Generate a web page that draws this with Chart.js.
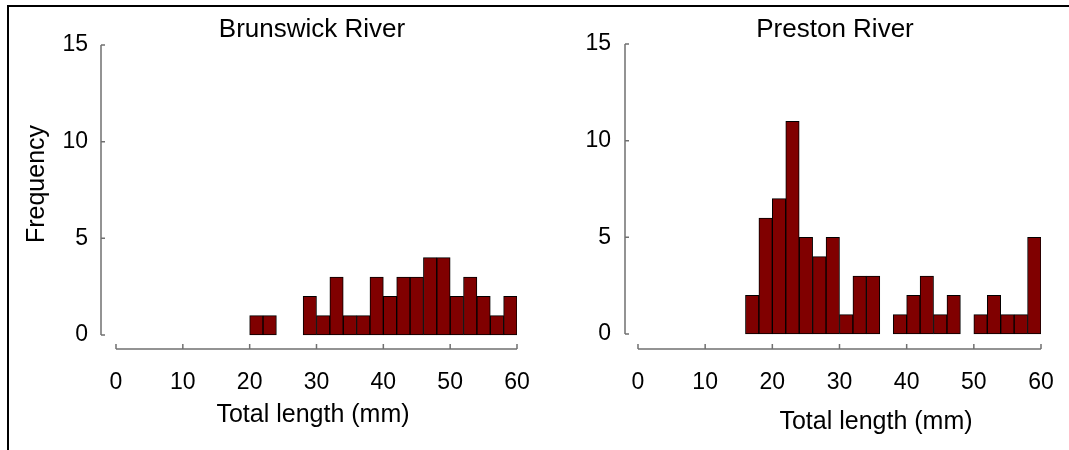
<!DOCTYPE html>
<html><head><meta charset="utf-8">
<script src="https://cdn.jsdelivr.net/npm/chart.js@4.4.1/dist/chart.umd.min.js"></script>
<style>
html,body{margin:0;padding:0;background:#fff;}
#wrap{position:relative;width:1069px;height:450px;overflow:hidden;background:#fff;}
canvas{position:absolute;left:0;top:0;}
#frame{position:absolute;left:7px;top:5px;width:1100px;height:500px;border-left:2px solid #000;border-top:2px solid #000;}
</style></head><body>
<div id="wrap"><div id="frame"></div><canvas id="c1" width="1069" height="450"></canvas><canvas id="c2" width="1069" height="450"></canvas></div>
<script>
// Bin centres of 2 mm length classes (0-2, 2-4, ... 58-60)
const binCenters = [1,3,5,7,9,11,13,15,17,19,21,23,25,27,29,31,33,35,37,39,41,43,45,47,49,51,53,55,57,59];
const brunswickCounts = [0,0,0,0,0,0,0,0,0,0,1,1,0,0,2,1,3,1,1,3,2,3,3,4,4,2,3,2,1,2];
const prestonCounts   = [0,0,0,0,0,0,0,0,2,6,7,11,5,4,5,1,3,3,0,1,2,3,1,2,0,1,2,1,1,5];
const xTickValues = [0,10,20,30,40,50,60];
const yTickValues = [0,5,10,15];
const panelTitles = ['Brunswick River','Preston River'];
const xAxisTitle = 'Total length (mm)';
const yAxisTitle = 'Frequency';

const FONT = '"Liberation Sans", Arial, sans-serif';

const decor = {
  id: 'decor',
  afterDraw(chart, args, o) {
    const ctx = chart.ctx, xs = chart.scales.x, ys = chart.scales.y, a = chart.chartArea;
    ctx.save();
    ctx.strokeStyle = '#707070';
    ctx.lineWidth = 1.5;
    const yx = a.left;
    const y0 = ys.getPixelForValue(yTickValues[0]);
    const y1 = ys.getPixelForValue(yTickValues[yTickValues.length - 1]);
    ctx.beginPath();
    ctx.moveTo(yx, y0); ctx.lineTo(yx, y1);
    yTickValues.forEach(v => { const p = ys.getPixelForValue(v); ctx.moveTo(yx, p); ctx.lineTo(yx + 4, p); });
    const xy = a.bottom;
    const x0 = xs.getPixelForValue(xTickValues[0]);
    const x1 = xs.getPixelForValue(xTickValues[xTickValues.length - 1]);
    ctx.moveTo(x0, xy); ctx.lineTo(x1, xy);
    xTickValues.forEach(v => { const p = xs.getPixelForValue(v); ctx.moveTo(p, xy); ctx.lineTo(p, xy - 5); });
    ctx.stroke();

    ctx.fillStyle = '#000';
    ctx.textAlign = 'center';
    ctx.textBaseline = 'middle';
    ctx.font = '26px ' + FONT;
    ctx.fillText(o.title, o.titleX, o.titleY);
    ctx.font = '25px ' + FONT;
    ctx.fillText(xAxisTitle, o.xTitleX, o.xTitleY);
    if (o.showYTitle) {
      ctx.translate(o.yTitleX, o.yTitleY);
      ctx.rotate(-Math.PI / 2);
      ctx.fillText(yAxisTitle, 0, 0);
    }
    ctx.restore();
  }
};

function makePanel(id, counts, p) {
  return new Chart(document.getElementById(id), {
    type: 'bar',
    data: {
      datasets: [{
        data: binCenters.map((c, i) => ({ x: c, y: counts[i] })),
        backgroundColor: '#800000',
        borderColor: '#000000',
        borderWidth: 1,
        borderSkipped: false,
        barPercentage: 1,
        categoryPercentage: 1
      }]
    },
    options: {
      responsive: false,
      animation: false,
      devicePixelRatio: 1,
      layout: { padding: p.padding },
      plugins: {
        legend: { display: false },
        tooltip: { enabled: false },
        title: { display: false },
        decor: p.decor
      },
      scales: {
        x: {
          type: 'linear',
          offset: false,
          min: p.xMin, max: 60,
          grid: { display: false, drawTicks: false, offset: false },
          border: { display: false },
          afterBuildTicks: s => { s.ticks = xTickValues.map(v => ({ value: v })); },
          afterFit: s => { s.height = 60; s.paddingLeft = 0; s.paddingRight = 0; },
          ticks: { autoSkip: false, maxRotation: 0, padding: 20, color: '#000', font: { family: FONT, size: 23 } }
        },
        y: {
          type: 'linear',
          min: p.yMin, max: 15,
          grid: { display: false, drawTicks: false },
          border: { display: false },
          afterBuildTicks: s => { s.ticks = yTickValues.map(v => ({ value: v })); },
          afterFit: s => { s.width = 60; },
          ticks: { autoSkip: false, padding: p.yPad, color: '#000', font: { family: FONT, size: 23 } }
        }
      }
    },
    plugins: [decor]
  });
}

makePanel('c1', brunswickCounts, {
  padding: { left: 41, right: 552, top: 45, bottom: 41 },
  xMin: -2.244, yMin: -0.724, yPad: 13,
  decor: { title: panelTitles[0], titleX: 312, titleY: 30, xTitleX: 313, xTitleY: 415, showYTitle: true, yTitleX: 37, yTitleY: 184 }
});
makePanel('c2', prestonCounts, {
  padding: { left: 565, right: 28, top: 44, bottom: 41 },
  xMin: -1.935, yMin: -0.776, yPad: 14,
  decor: { title: panelTitles[1], titleX: 835, titleY: 30, xTitleX: 876, xTitleY: 422, showYTitle: false }
});
</script>
</body></html>
